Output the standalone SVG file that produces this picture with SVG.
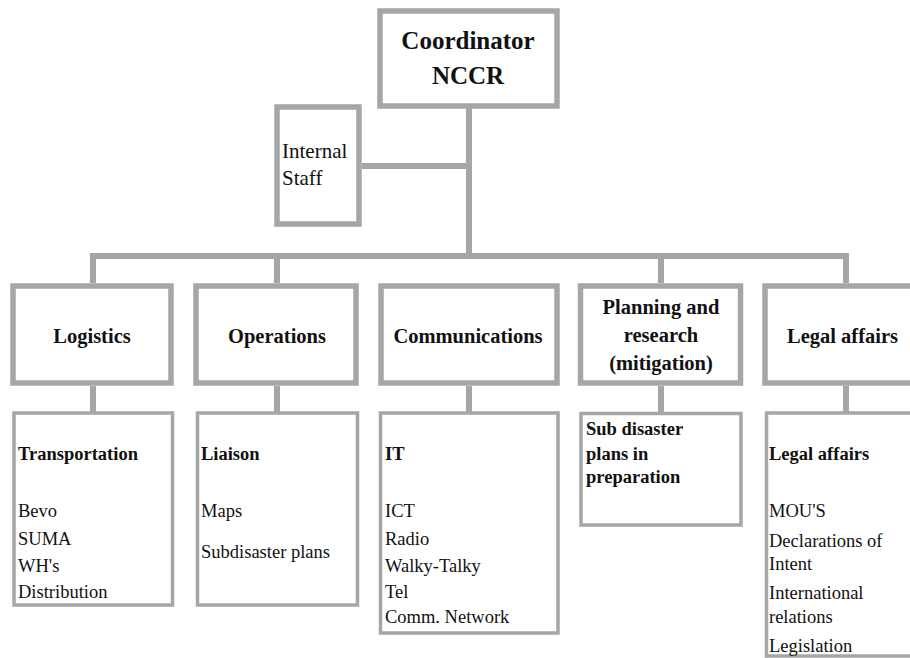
<svg xmlns="http://www.w3.org/2000/svg" width="910" height="658" viewBox="0 0 910 658">
<style>
.box{fill:#fff;stroke:#a6a6a6;stroke-width:5.5}
.sub{fill:#fff;stroke:#a6a6a6;stroke-width:3.5}
.con{fill:none;stroke:#a6a6a6;stroke-width:6}
text{font-family:"Liberation Serif","Times New Roman",serif;fill:#111}
.t{font-size:25px;font-weight:bold;text-anchor:middle}
.h{font-size:20.5px;font-weight:bold;text-anchor:middle}
.b{font-size:18.5px;font-weight:bold}
.r{font-size:18.5px}
.i{font-size:21px}
</style>
<rect width="910" height="658" fill="#fff"/>
<g id="connectors">
<path class="con" d="M469 108V256M362 166H469M93 283V256H846V283M277 256V283M661 256V283"/>
<path class="con" d="M93 386V412M277 386V412M469 386V412M661 386V412M846 386V412"/>
</g>
<g id="coordinator"><rect class="box" x="380" y="11" width="177" height="95"/><text class="t" x="468" y="49">Coordinator</text><text class="t" x="468" y="84">NCCR</text></g>
<g id="internal"><rect class="box" x="277" y="107" width="82" height="117"/><text class="i" x="282" y="158">Internal</text><text class="i" x="282" y="185">Staff</text></g>
<g id="logistics"><rect class="box" x="13" y="286" width="158" height="97"/><text class="h" x="92" y="343">Logistics</text></g>
<g id="operations"><rect class="box" x="196" y="286" width="160" height="97"/><text class="h" x="277" y="343">Operations</text></g>
<g id="communications"><rect class="box" x="381" y="286" width="176" height="97"/><text class="h" x="468" y="343">Communications</text></g>
<g id="planning"><rect class="box" x="580.5" y="286" width="160" height="97"/><text class="h" x="661" y="314">Planning and</text><text class="h" x="661" y="342">research</text><text class="h" x="661" y="370">(mitigation)</text></g>
<g id="legal"><rect class="box" x="765" y="286" width="170" height="97"/><text class="h" x="787" y="343" style="text-anchor:start">Legal affairs</text></g>
<g id="logistics-detail"><rect class="sub" x="14" y="413" width="158.5" height="192"/><text class="b" x="18" y="460">Transportation</text><text class="r" x="18" y="517">Bevo</text><text class="r" x="18" y="545">SUMA</text><text class="r" x="18" y="572">WH's</text><text class="r" x="18" y="598">Distribution</text></g>
<g id="operations-detail"><rect class="sub" x="197.5" y="413" width="160" height="192"/><text class="b" x="201" y="460">Liaison</text><text class="r" x="201" y="517">Maps</text><text class="r" x="201" y="558">Subdisaster plans</text></g>
<g id="communications-detail"><rect class="sub" x="380.5" y="413" width="177.5" height="220"/><text class="b" x="385" y="460">IT</text><text class="r" x="385" y="517">ICT</text><text class="r" x="385" y="545">Radio</text><text class="r" x="385" y="572">Walky-Talky</text><text class="r" x="385" y="598">Tel</text><text class="r" x="385" y="623">Comm. Network</text></g>
<g id="planning-detail"><rect class="sub" x="581" y="413.5" width="160" height="111.5"/><text class="b" x="586" y="435">Sub disaster</text><text class="b" x="586" y="460">plans in</text><text class="b" x="586" y="483">preparation</text></g>
<g id="legal-detail"><rect class="sub" x="766.5" y="413" width="200" height="243"/><text class="b" x="769" y="460">Legal affairs</text><text class="r" x="769" y="517">MOU'S</text><text class="r" x="769" y="547">Declarations of</text><text class="r" x="769" y="570">Intent</text><text class="r" x="769" y="599">International</text><text class="r" x="769" y="623">relations</text><text class="r" x="769" y="652">Legislation</text></g>
</svg>
